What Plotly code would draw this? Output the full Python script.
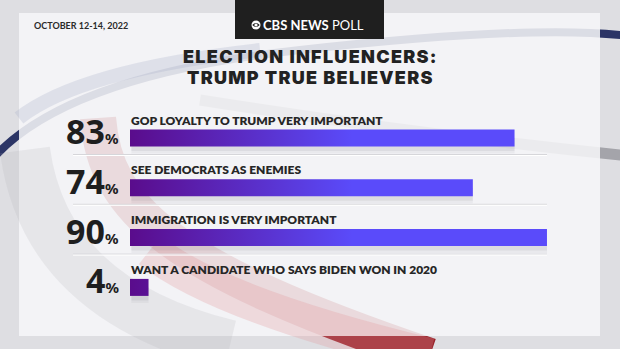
import plotly.graph_objects as go

# ---------------- data ----------------
labels = [
    "GOP LOYALTY TO TRUMP VERY IMPORTANT",
    "SEE DEMOCRATS AS ENEMIES",
    "IMMIGRATION IS VERY IMPORTANT",
    "WANT A CANDIDATE WHO SAYS BIDEN WON IN 2020",
]
values = [83, 74, 90, 4]
title_lines = ["ELECTION INFLUENCERS:", "TRUMP TRUE BELIEVERS"]
date_text = "OCTOBER 12-14, 2022"
brand_bold = "CBS NEWS"
brand_light = "POLL"

# ---------------- geometry (pixels) ----------------
W, H = 620, 349
PX_PER_UNIT = 4.633
X0_PX = 130
ROW0_PX = 138
ROW_PX = 49.8
xr = [-X0_PX / PX_PER_UNIT, (W - X0_PX) / PX_PER_UNIT]
yr = [(H - ROW0_PX) / ROW_PX, -ROW0_PX / ROW_PX]
half = 8.5 / ROW_PX


def px(x):
    return x / W


def py(y):
    return 1 - y / H


def path(points):
    out = []
    for cmd, coords in points:
        pts = [f"{px(a):.4f},{py(b):.4f}" for (a, b) in coords]
        out.append(cmd + " " + " ".join(pts))
    return " ".join(out)


fig = go.Figure()

# bar shadows
for i, v in enumerate(values):
    for off, a in [(7, 0.05), (4.5, 0.07)]:
        fig.add_trace(go.Scatter(
            x=[0.3, v, v, 0.3, 0.3],
            y=[i, i, i + half + off / ROW_PX, i + half + off / ROW_PX, i],
            fill="toself", mode="lines", line=dict(width=0),
            fillcolor=f"rgba(60,60,70,{a})", hoverinfo="skip", showlegend=False,
        ))

# bars with horizontal gradient
for i, v in enumerate(values):
    fig.add_trace(go.Scatter(
        x=[0, v, v, 0, 0],
        y=[i - half, i - half, i + half, i + half, i - half],
        fill="toself", mode="lines", line=dict(width=0),
        fillgradient=dict(type="horizontal",
                          colorscale=[[0, "#5a0c8c"], [1, "#5a4bfa"]],
                          start=0, stop=48),
        hoverinfo="skip", showlegend=False,
    ))

red_arc = path([("M", [(98, 118)]), ("C", [(105, 210), (170, 268), (430, 356)])])

shapes = []
# background swooshes (behind the panel)
shapes.append(dict(type="path", xref="paper", yref="paper", layer="below",
                   path=path([("M", [(-20, 175)]), ("Q", [(45, 78), (300, 50)]), ("T", [(640, 38)])]),
                   line=dict(color="#2c3566", width=8)))
shapes.append(dict(type="path", xref="paper", yref="paper", layer="below",
                   path=path([("M", [(200, 100)]), ("Q", [(420, 135), (640, 157)])]),
                   line=dict(color="#a4a4aa", width=11)))
shapes.append(dict(type="path", xref="paper", yref="paper", layer="below",
                   path=red_arc, line=dict(color="#98222a", width=36)))
# panel
shapes.append(dict(type="rect", xref="paper", yref="paper", layer="below",
                   x0=px(19), x1=px(600), y0=py(336), y1=py(13),
                   fillcolor="rgba(246,246,248,0.87)", line=dict(width=0)))
# soft blue-grey swoosh inside panel
shapes.append(dict(type="path", xref="paper", yref="paper", layer="below",
                   path=path([("M", [(19, 118)]), ("Q", [(80, 70), (260, 50)])]),
                   line=dict(color="rgba(170,176,200,0.28)", width=14)))
# soft grey shading lower-left
shapes.append(dict(type="path", xref="paper", yref="paper", layer="below",
                   path=path([("M", [(25, 150)]), ("Q", [(45, 300), (230, 345)])]),
                   line=dict(color="rgba(170,170,178,0.18)", width=50)))
# pink arc more visible in the lower part of the panel
shapes.append(dict(type="path", xref="paper", yref="paper", layer="below",
                   path=path([("M", [(150, 250)]), ("Q", [(220, 305), (430, 356)])]),
                   line=dict(color="rgba(225,150,155,0.28)", width=36)))
# header box
shapes.append(dict(type="rect", xref="paper", yref="paper", layer="below",
                   x0=px(235), x1=px(384), y0=py(39), y1=py(-2),
                   fillcolor="#1f1f1f", line=dict(width=0)))
# CBS eye logo
shapes.append(dict(type="circle", xref="paper", yref="paper", layer="above",
                   x0=px(251.5), x1=px(260.5), y0=py(29.5), y1=py(20.5),
                   fillcolor="#ffffff", line=dict(width=0)))
shapes.append(dict(type="path", xref="paper", yref="paper", layer="above",
                   path=path([("M", [(252.3, 25)]), ("Q", [(256, 20.8), (259.7, 25)]),
                              ("Q", [(256, 29.2), (252.3, 25)]), ("Z", [])]),
                   fillcolor="#1f1f1f", line=dict(width=0)))
shapes.append(dict(type="circle", xref="paper", yref="paper", layer="above",
                   x0=px(254.4), x1=px(257.6), y0=py(26.6), y1=py(23.4),
                   fillcolor="#ffffff", line=dict(width=0)))
# row separators
for i in range(len(values) - 1):
    yy = i + 16.5 / ROW_PX
    shapes.append(dict(type="line", xref="paper", yref="y", layer="below",
                       x0=px(73), x1=px(547), y0=yy, y1=yy,
                       line=dict(color="#d6d6da", width=1)))
    shapes.append(dict(type="line", xref="paper", yref="y", layer="below",
                       x0=px(73), x1=px(547), y0=yy + 1 / ROW_PX, y1=yy + 1 / ROW_PX,
                       line=dict(color="#ffffff", width=1)))

annotations = []
# labels and percentages
for i, (lab, v) in enumerate(zip(labels, values)):
    annotations.append(dict(
        x=-0.15, y=i - 18 / ROW_PX, xref="x", yref="y", xanchor="left", yanchor="middle",
        text=lab, showarrow=False,
        font=dict(family="Lato", size=12, color="#262626", weight=800)))
    annotations.append(dict(
        x=(121 - X0_PX) / PX_PER_UNIT, y=i - 7 / ROW_PX, xref="x", yref="y",
        xanchor="right", yanchor="middle",
        text=(f"<span style='font-stretch:extra-condensed'>{v}</span>"
              f"<span style='font-size:15px;font-stretch:extra-condensed'>%</span>"),
        showarrow=False,
        font=dict(family="Noto Sans", size=34, color="#1e1e1e", weight="bold")))

# title
for j, t in enumerate(title_lines):
    annotations.append(dict(
        x=px(310), y=py([56.5, 77.5][j]), xref="paper", yref="paper",
        xanchor="center", yanchor="middle", showarrow=False, borderpad=0,
        text=f"<span style='letter-spacing:1.3px'>{t}</span>",
        font=dict(family="Inter", size=18, color="#222222", weight=900)))

# date
annotations.append(dict(
    x=px(32), y=py(26), xref="paper", yref="paper", xanchor="left", yanchor="middle",
    text=date_text, showarrow=False,
    font=dict(family="Lato", size=9, color="#2a2a2a", weight=700)))

# brand
annotations.append(dict(
    x=px(261), y=py(25), xref="paper", yref="paper", xanchor="left", yanchor="middle",
    text=f"<b>{brand_bold}</b> {brand_light}", showarrow=False,
    font=dict(family="Lato", size=13, color="#ffffff")))

fig.update_layout(
    width=W, height=H,
    margin=dict(l=0, r=0, t=0, b=0),
    paper_bgcolor="#dedee2", plot_bgcolor="rgba(0,0,0,0)",
    xaxis=dict(range=xr, visible=False, fixedrange=True),
    yaxis=dict(range=yr, visible=False, fixedrange=True),
    shapes=shapes, annotations=annotations, showlegend=False,
)

fig.write_html("out.html")
